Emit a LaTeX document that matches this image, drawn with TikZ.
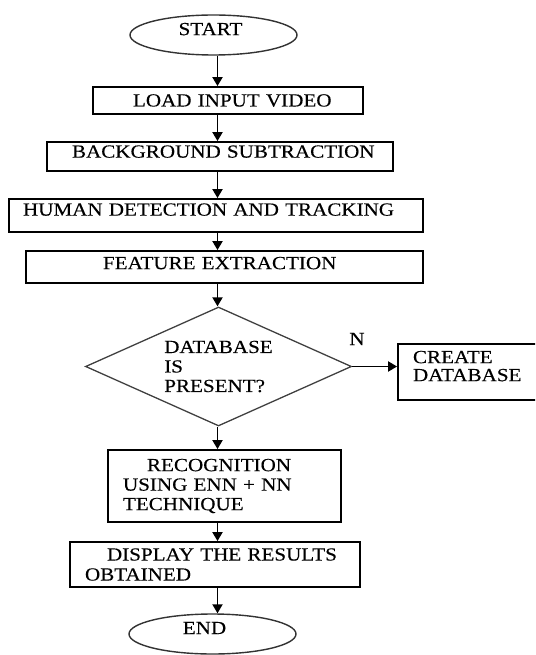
\documentclass[tikz,border=0pt]{standalone}
\usepackage{fontspec}
\setmainfont{Liberation Serif}[FakeStretch=1.14,FakeBold=0.3]
\usetikzlibrary{shapes.geometric,arrows.meta}

\begin{document}
\begin{tikzpicture}[x=1pt,y=-1pt,
  every node/.style={font=\fontsize{18.5}{19.5}\selectfont, text=black},
  terminal/.style={ellipse, draw=black!80, line width=1.4pt,
    minimum width=167pt, minimum height=40pt, inner sep=0pt, text depth=12pt},
  procbox/.style={rectangle, draw=black, line width=1.8pt, inner sep=0pt, align=left},
  decision/.style={diamond, draw=black!75, line width=1.3pt, inner sep=0pt,
    aspect=2.24, align=left, minimum width=266pt, minimum height=119pt},
  flow/.style={draw=black, line width=1.9pt, -{Triangle[width=10pt,length=9pt]}}
]
\useasboundingbox (0,0) rectangle (535,655);
\clip (0,0) rectangle (535,655);

% main column
\node[terminal] (start) at (213.5,35) {\hspace*{-6pt}START};
\node[procbox, text width=270pt, minimum height=27pt] (load) at (228,100.5)
  {\hspace*{40pt}LOAD INPUT VIDEO};
\node[procbox, text width=346pt, minimum height=29pt, text depth=10pt] (back) at (220,156.5)
  {\hspace*{25pt}BACKGROUND SUBTRACTION};
\node[procbox, text width=414pt, minimum height=33pt, text depth=12pt] (human) at (216,215.5)
  {\hspace*{14pt}HUMAN DETECTION AND TRACKING};
\node[procbox, text width=397pt, minimum height=32pt, text depth=8pt] (feat) at (224.5,267)
  {\hspace*{77pt}FEATURE EXTRACTION};
\node[decision] (dec) at (218.5,366.5) {DATABASE\\IS\\PRESENT?};
\node (nlab) at (357,339) {N};
\node[procbox, text width=147pt, minimum height=56pt, text depth=30pt,
  font=\fontsize{18.5}{18}\selectfont] (create) at (471.5,372)
  {\hspace*{15pt}CREATE\\\hspace*{15pt}DATABASE};
\node[procbox, text width=233pt, minimum height=72pt] (recog) at (224.5,486)
  {\hspace*{39pt}RECOGNITION\\\hspace*{15pt}USING ENN + NN\\\hspace*{15pt}TECHNIQUE};
\node[procbox, text width=290pt, minimum height=45pt,
  font=\fontsize{18.5}{20}\selectfont] (disp) at (215,564.5)
  {\hspace*{37pt}DISPLAY THE RESULTS\\\hspace*{15pt}OBTAINED};
\node[terminal] (stop) at (212.5,634) {\hspace*{-16pt}END};

% connectors
\coordinate (spine) at (217.5,0);
\draw[flow] (spine |- start.south) -- (spine |- load.north);
\draw[flow] (spine |- load.south) -- (spine |- back.north);
\draw[flow] (spine |- back.south) -- (spine |- human.north);
\draw[flow] (spine |- human.south) -- (spine |- feat.north);
\draw[flow] (spine |- feat.south) -- (spine |- dec.north);
\draw[flow] (spine |- dec.south) -- (spine |- recog.north);
\draw[flow] (spine |- recog.south) -- (spine |- disp.north);
\draw[flow] (spine |- disp.south) -- (spine |- stop.north);
\draw[flow] (dec.east) -- (dec.east -| create.west);
\end{tikzpicture}
\end{document}
